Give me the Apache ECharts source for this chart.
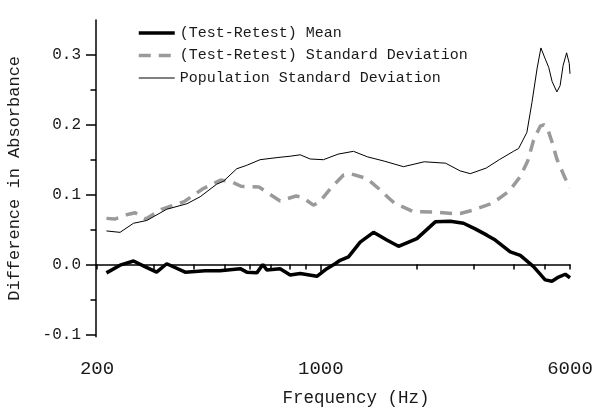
<!DOCTYPE html>
<html>
<head>
<meta charset="utf-8">
<script src="https://cdn.jsdelivr.net/npm/echarts@6/dist/echarts.min.js"></script>
<style>html,body{margin:0;padding:0;background:#fff;}#c{width:600px;height:413px;}</style>
</head>
<body>
<div id="c"></div>
<script>
// ---- data ----
const meanFreq = [214,236,260,282,307,330,377,435,484,560,587,631,659,678,746,802,862,972,1044,1108,1149,1220,1327,1460,1607,1748,1995,2277,2536,2790,3034,3300,3505,3905,4197,4617,5020,5270,5527,5800,6000];
const meanVal  = [-0.012,-0.001,0.005,-0.003,-0.011,0.001,-0.011,-0.009,-0.009,-0.006,-0.011,-0.012,0.000,-0.008,-0.006,-0.015,-0.013,-0.017,-0.006,0.001,0.006,0.011,0.032,0.046,0.035,0.026,0.037,0.061,0.062,0.059,0.051,0.042,0.035,0.018,0.013,-0.003,-0.022,-0.024,-0.018,-0.014,-0.019];

const sdFreq = [214,227,251,263,284,318,374,427,487,528,563,641,670,746,837,877,948,988,1077,1177,1235,1392,1521,1694,1937,2236,2580,2723,2996,3444,3875,4197,4434,4617,4845,4969,5083,5275,5459,5800,6000];
const sdVal  = [0.066,0.065,0.072,0.074,0.065,0.079,0.090,0.108,0.121,0.118,0.112,0.111,0.105,0.091,0.098,0.096,0.085,0.089,0.110,0.128,0.130,0.123,0.108,0.088,0.076,0.075,0.073,0.073,0.078,0.088,0.105,0.126,0.149,0.178,0.198,0.200,0.197,0.175,0.151,0.123,0.110];

const popFreq = [214,236,260,286,330,382,420,473,496,546,587,646,729,802,862,926,1019,1132,1264,1400,1577,1811,2104,2453,2723,2929,3283,3608,3995,4146,4400,4564,4733,4867,5024,5150,5275,5459,5588,5710,5856,5967,6000];
const popVal  = [0.048,0.046,0.059,0.063,0.079,0.087,0.097,0.115,0.119,0.137,0.142,0.150,0.153,0.155,0.157,0.151,0.150,0.158,0.162,0.154,0.148,0.140,0.147,0.145,0.134,0.130,0.138,0.150,0.162,0.166,0.189,0.232,0.280,0.310,0.294,0.282,0.262,0.247,0.256,0.285,0.303,0.288,0.273];

const seriesNames = ['(Test-Retest) Mean', '(Test-Retest) Standard Deviation', 'Population Standard Deviation'];
const xLabelValues = [200, 1000, 6000];
const xMajorTicks = [1000];
const xMinorTicks = [200,300,400,500,600,700,800,900,2000,3000,4000,5000,6000];
const yLabelValues = [-0.1, 0, 0.1, 0.2, 0.3];
const yMinorTicks = [-0.05, 0.05, 0.15, 0.25];

const pairs = (xs, ys) => xs.map((x, i) => [x, ys[i]]);

const FONT = 'Liberation Mono';
const TXT = '#1a1a1a';
const X_MIN = 198.5, X_MAX = 6000, Y_MIN = -0.1034, Y_MAX = 0.35;

const chart = echarts.init(document.getElementById('c'), null, {renderer: 'canvas'});
chart.setOption({
  animation: false,
  backgroundColor: '#fff',
  grid: {left: 96, right: 30, top: 20, bottom: 76.3, containLabel: false, outerBoundsMode: 'none'},
  legend: {
    orient: 'vertical', left: 137, top: 25.5, padding: 0,
    itemWidth: 36, itemHeight: 15, itemGap: 7.5,
    itemStyle: {color: 'rgba(0,0,0,0)', borderColor: 'rgba(0,0,0,0)', borderWidth: 0},
    lineStyle: {width: 'inherit'},
    textStyle: {fontFamily: FONT, fontSize: 15, color: TXT},
    data: seriesNames
  },
  xAxis: [{
    type: 'log', logBase: 10, min: X_MIN, max: X_MAX, position: 'bottom',
    axisLine: {show: true, lineStyle: {color: '#000', width: 1.5}},
    axisTick: {show: true, inside: false, length: 10, customValues: xMajorTicks, lineStyle: {color: '#000', width: 1.5}},
    axisLabel: {show: true, customValues: xLabelValues, margin: 23, fontFamily: FONT, fontSize: 19, color: TXT,
      formatter: v => String(Math.round(v))},
    splitLine: {show: false}, minorTick: {show: false},
    name: 'Frequency (Hz)', nameLocation: 'middle', nameGap: 53,
    nameTextStyle: {fontFamily: FONT, fontSize: 17.5, color: TXT, padding: [0,0,0,46]}
  }, {
    type: 'log', logBase: 10, min: X_MIN, max: X_MAX, position: 'bottom',
    axisLine: {show: false},
    axisTick: {show: true, inside: false, length: 5, customValues: xMinorTicks, lineStyle: {color: '#000', width: 1.5}},
    axisLabel: {show: false}, splitLine: {show: false}
  }],
  yAxis: [{
    type: 'value', min: Y_MIN, max: Y_MAX, position: 'left',
    axisLine: {show: true, lineStyle: {color: '#000', width: 1.5}},
    axisTick: {show: true, inside: false, length: 10, customValues: yLabelValues, lineStyle: {color: '#000', width: 1.5}},
    axisLabel: {show: true, customValues: yLabelValues, margin: 15, fontFamily: FONT, fontSize: 16, color: TXT,
      formatter: v => v.toFixed(1)},
    splitLine: {show: false},
    name: 'Difference in Absorbance', nameLocation: 'middle', nameGap: 73, nameRotate: 90,
    nameTextStyle: {fontFamily: FONT, fontSize: 17, color: TXT}
  }, {
    type: 'value', min: Y_MIN, max: Y_MAX, position: 'left',
    axisLine: {show: false},
    axisTick: {show: true, inside: false, length: 5.5, customValues: yMinorTicks, lineStyle: {color: '#000', width: 1.5}},
    axisLabel: {show: false}, splitLine: {show: false}
  }],
  series: [{
    name: seriesNames[0], type: 'line', xAxisIndex: 0, yAxisIndex: 0, symbol: 'none', z: 3,
    data: pairs(meanFreq, meanVal),
    lineStyle: {color: '#000', width: 3.5}, itemStyle: {color: '#000'}
  }, {
    name: seriesNames[1], type: 'line', xAxisIndex: 0, yAxisIndex: 0, symbol: 'none', z: 2,
    data: pairs(sdFreq, sdVal),
    lineStyle: {color: '#9a9a9a', width: 3.5, type: [12, 8]}, itemStyle: {color: '#9a9a9a'}
  }, {
    name: seriesNames[2], type: 'line', xAxisIndex: 0, yAxisIndex: 0, symbol: 'none', z: 2,
    data: pairs(popFreq, popVal),
    lineStyle: {color: '#000', width: 1}, itemStyle: {color: '#000'}
  }]
});
</script>
</body>
</html>
